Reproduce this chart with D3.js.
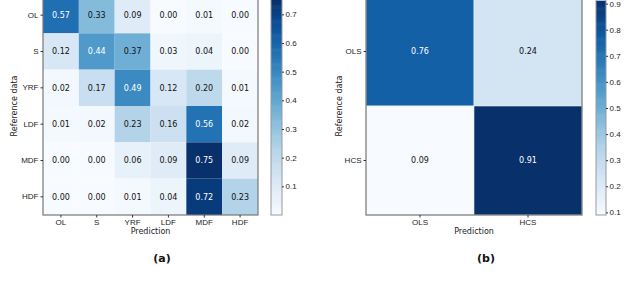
<!DOCTYPE html>
<html>
<head>
<meta charset="utf-8">
<script src="https://cdn.jsdelivr.net/npm/d3@7"></script>
<style>
  body { margin: 0; background: #fff; }
  svg { display: block; font-family: "DejaVu Sans", sans-serif; }
  .tick text { font-size: 8px; fill: #222; }
</style>
</head>
<body>
<svg id="chart" width="640" height="285"></svg>
<script>
// six-class matrix (a)
const classesA = ["OL", "S", "YRF", "LDF", "MDF", "HDF"];
const valuesA = [
    [0.57, 0.33, 0.09, 0.00, 0.01, 0.00],
    [0.12, 0.44, 0.37, 0.03, 0.04, 0.00],
    [0.02, 0.17, 0.49, 0.12, 0.20, 0.01],
    [0.01, 0.02, 0.23, 0.16, 0.56, 0.02],
    [0.00, 0.00, 0.06, 0.09, 0.75, 0.09],
    [0.00, 0.00, 0.01, 0.04, 0.72, 0.23]
];
const colorbarTicksA = [0.1, 0.2, 0.3, 0.4, 0.5, 0.6, 0.7];

// two-class matrix (b)
const classesB = ["OLS", "HCS"];
const valuesB = [
    [0.76, 0.24],
    [0.09, 0.91]
];
const colorbarTicksB = [0.1, 0.2, 0.3, 0.4, 0.5, 0.6, 0.7, 0.8, 0.9];

const svg = d3.select("#chart");

function drawMatrix(opt) {
    const g = svg.append("g");
    const flat = opt.values.flat();
    const vmin = d3.min(flat), vmax = d3.max(flat);
    const color = d3.scaleSequential(d3.interpolateBlues).domain([vmin, vmax]);
    const thresh = (vmin + vmax) / 2;

    const x = d3.scaleBand().domain(opt.classes).range([opt.left, opt.right]);
    const y = d3.scaleBand().domain(opt.classes).range([opt.top, opt.bottom]);

    const cells = [];
    opt.values.forEach((row, i) => row.forEach((v, j) => cells.push({ r: opt.classes[i], c: opt.classes[j], v })));

    g.selectAll("rect.cell")
        .data(cells)
        .join("rect")
        .attr("class", "cell")
        .attr("x", d => x(d.c))
        .attr("y", d => y(d.r))
        .attr("width", x.bandwidth())
        .attr("height", y.bandwidth())
        .attr("fill", d => color(d.v))
        .attr("stroke", opt.gridStroke)
        .attr("stroke-width", 0.6);

    g.selectAll("text.val")
        .data(cells)
        .join("text")
        .attr("class", "val")
        .attr("x", d => x(d.c) + x.bandwidth() / 2)
        .attr("y", d => y(d.r) + y.bandwidth() / 2)
        .attr("dy", "0.35em")
        .attr("text-anchor", "middle")
        .style("font-size", "8px")
        .attr("fill", d => d.v > thresh ? "#fff" : "#111")
        .text(d => d.v.toFixed(2));

    // frame
    g.append("rect")
        .attr("x", opt.left).attr("y", opt.top)
        .attr("width", opt.right - opt.left).attr("height", opt.bottom - opt.top)
        .attr("fill", "none").attr("stroke", "#777").attr("stroke-width", 1.2);

    g.append("g")
        .attr("transform", `translate(${opt.left},0)`)
        .call(d3.axisLeft(y).tickSize(2.5).tickPadding(2))
        .call(a => a.select(".domain").remove())
        .call(a => a.selectAll("line").attr("stroke", "#333"));

    g.append("g")
        .attr("transform", `translate(0,${opt.bottom})`)
        .call(d3.axisBottom(x).tickSize(2.5).tickPadding(2))
        .call(a => a.select(".domain").remove())
        .call(a => a.selectAll("line").attr("stroke", "#333"));

    g.append("text")
        .attr("transform", `translate(${opt.yTitleX},${(opt.top + opt.bottom) / 2}) rotate(-90)`)
        .attr("text-anchor", "middle")
        .style("font-size", "8px").attr("fill", "#222")
        .text("Reference data");

    g.append("text")
        .attr("x", (opt.left + opt.right) / 2)
        .attr("y", opt.bottom + 19)
        .attr("text-anchor", "middle")
        .style("font-size", "8px").attr("fill", "#222")
        .text("Prediction");

    g.append("text")
        .attr("x", opt.labelX)
        .attr("y", 262)
        .attr("text-anchor", "middle")
        .style("font-size", "11px").style("font-weight", "bold").attr("fill", "#111")
        .text(opt.label);

    // colorbar
    const cb = d3.scaleLinear().domain([vmin, vmax]).range([opt.bottom, opt.cbTop]);
    const steps = d3.range(0, 200).map(i => vmin + (vmax - vmin) * i / 200);
    const dy = (opt.bottom - opt.cbTop) / 200;
    g.selectAll("rect.cb")
        .data(steps)
        .join("rect")
        .attr("class", "cb")
        .attr("x", opt.cbX)
        .attr("y", d => cb(d) - dy - 0.3)
        .attr("width", opt.cbW)
        .attr("height", dy + 0.6)
        .attr("fill", d => color(d));
    g.append("rect")
        .attr("x", opt.cbX).attr("y", opt.cbTop - 3)
        .attr("width", opt.cbW).attr("height", opt.bottom - opt.cbTop + 3)
        .attr("fill", "none").attr("stroke", "#999").attr("stroke-width", 1);
    g.append("g")
        .attr("transform", `translate(${opt.cbX + opt.cbW},0)`)
        .call(d3.axisRight(cb).tickValues(opt.cbTicks).tickFormat(d3.format(".1f")).tickSize(2).tickPadding(1.5))
        .call(a => a.select(".domain").remove())
        .call(a => a.selectAll("line").attr("stroke", "#333"));
}

drawMatrix({
    classes: classesA, values: valuesA, cbTicks: colorbarTicksA,
    left: 43, right: 258, top: -3, bottom: 215, cbTop: 0,
    yTitleX: 17, labelX: 162, label: "(a)",
    cbX: 271, cbW: 11, gridStroke: "none"
});

drawMatrix({
    classes: classesB, values: valuesB, cbTicks: colorbarTicksB,
    left: 366, right: 582, top: -3, bottom: 215, cbTop: 1,
    yTitleX: 342, labelX: 486, label: "(b)",
    cbX: 596, cbW: 10, gridStroke: "#e8eef6"
});

// caption line, cut off by the bottom edge
svg.append("text")
    .attr("x", 0)
    .attr("y", 293)
    .style("font-size", "11px")
    .attr("fill", "#444")
    .text("Within the two-level classification. Confusion matrices for (a) Six-class classification of Peat Swamp Forest, (b) Two-class classification");
</script>
</body>
</html>
